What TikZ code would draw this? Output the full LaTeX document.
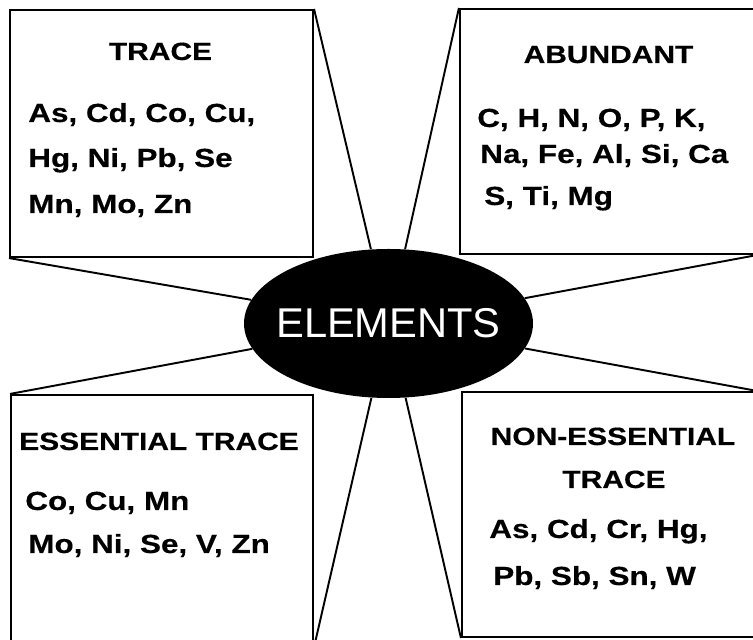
\documentclass[tikz,border=0pt]{standalone}
\usepackage{fontspec}
\usepackage{tikz}
\usetikzlibrary{shapes.geometric}
\newfontfamily\boxfont[FakeStretch=1.2,FakeBold=0.4]{Liberation Sans}
\newfontfamily\elemfont{Liberation Sans}
\newcommand{\boxsize}{\fontsize{14.9}{17}\selectfont}
\newcommand{\headsize}{\fontsize{14.2}{17}\selectfont}

\begin{document}
\begin{tikzpicture}[
    frame/.style={draw,line width=1.2pt,inner sep=0pt},
    spoke/.style={line width=1.1pt},
    head/.style={anchor=base,inner sep=0pt,font=\boxfont\bfseries\headsize},
    elist/.style={anchor=base west,inner sep=0pt,font=\boxfont\bfseries\boxsize}]
  \useasboundingbox (0,0) rectangle (15.06,-12.8);
  \clip (0,0) rectangle (15.06,-12.8);
  % the four boxes
  \node[frame,minimum width=60.6mm,minimum height=49.4mm] (trace) at (3.23,-2.67) {};
  \node[frame,minimum width=59.2mm,minimum height=49mm] (abund) at (12.16,-2.63) {};
  \node[frame,minimum width=60.4mm,minimum height=50.2mm] (ess) at (3.24,-10.41) {};
  \node[frame,minimum width=58.8mm,minimum height=49mm] (noness) at (12.18,-10.29) {};
  % centre
  \node[ellipse,fill=black,minimum width=57.8mm,minimum height=29.8mm,inner sep=0pt] (el) at (7.77,-6.47) {};
  \node[text=white,inner sep=0pt,font=\elemfont\fontsize{23.7}{28}\selectfont] (elname) at (el) {ELEMENTS};
  \foreach \b/\c in {trace/north east, trace/south west, abund/north west, abund/south east,
      ess/north west, ess/south east, noness/north east, noness/south west}
    \draw[spoke] (\b.\c) -- (el);
  % titles and element lists
  \foreach \x/\y/\t [count=\i] in {3.21/-1.20/TRACE, 12.17/-1.26/ABUNDANT,
      3.18/-9.00/ESSENTIAL TRACE, 12.26/-8.90/NON-ESSENTIAL, 12.28/-9.76/TRACE}
    \node[head] (head\i) at (\x,\y) {\t};
  \foreach \x/\y/\t [count=\i] in {
      0.56/-2.44/{As, Cd, Co, Cu,}, 0.56/-3.34/{Hg, Ni, Pb, Se}, 0.56/-4.26/{Mn, Mo, Zn},
      9.54/-2.54/{C, H, N, O, P, K,}, 9.60/-3.26/{Na, Fe, Al, Si, Ca}, 9.68/-4.10/{S, Ti, Mg},
      0.50/-10.20/{Co, Cu, Mn}, 0.56/-11.06/{Mo, Ni, Se, V, Zn},
      9.78/-10.76/{As, Cd, Cr, Hg,}, 9.86/-11.70/{Pb, Sb, Sn, W}}
    \node[elist] (line\i) at (\x,\y) {\t};
\end{tikzpicture}
\end{document}
